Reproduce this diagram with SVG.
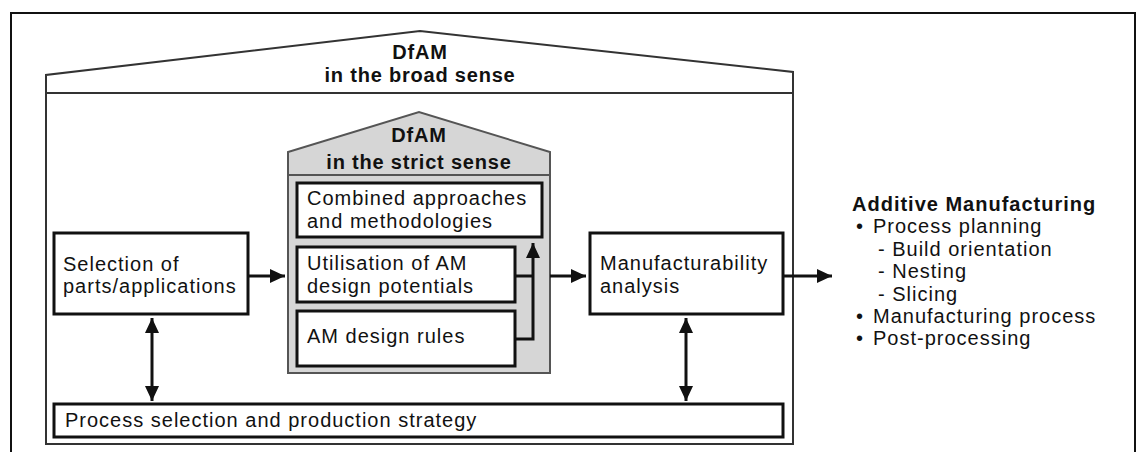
<svg xmlns="http://www.w3.org/2000/svg" width="1146" height="452" viewBox="0 0 1146 452">
<style>
text{font-family:"Liberation Sans",Arial,sans-serif;fill:#111;}
.t{font-size:20px;letter-spacing:1px;}
.b{font-size:20px;font-weight:bold;letter-spacing:0.8px;}
.bx{fill:#fff;stroke:#111;stroke-width:3;}
.c{fill:none;stroke:#111;stroke-width:3;}
</style>
<defs>
<marker id="ah" markerUnits="userSpaceOnUse" markerWidth="16" markerHeight="16" refX="15" refY="8" orient="auto-start-reverse">
<path d="M0,1 L15,8 L0,15 z" fill="#111"/>
</marker>
</defs>
<rect width="1146" height="452" fill="#fff"/>
<g id="frame"><rect x="11" y="13" width="1124" height="460" fill="none" stroke="#111" stroke-width="2"/></g>
<g id="broad">
<path d="M46,444 V75 L420,31 L793,72 V444 Z" fill="#fff" stroke="#333" stroke-width="2"/>
<path d="M46,93 H793" fill="none" stroke="#333" stroke-width="2"/>
<text class="b" text-anchor="middle"><tspan x="420" y="59">DfAM</tspan><tspan x="420" y="81.5">in the broad sense</tspan></text>
</g>
<g id="strict">
<path d="M288,373 V152 L419,112 L550,152 V373 Z" fill="#d6d6d6" stroke="#555" stroke-width="2"/>
<path d="M288,175 H550" stroke="#555" stroke-width="2"/>
<text class="b" text-anchor="middle"><tspan x="419" y="142">DfAM</tspan><tspan x="419" y="169">in the strict sense</tspan></text>
</g>
<g id="combined">
<rect class="bx" x="297" y="183" width="245" height="54"/>
<text class="t"><tspan x="307" y="205">Combined approaches</tspan><tspan x="307" y="227.5">and methodologies</tspan></text>
</g>
<g id="utilisation">
<rect class="bx" x="297" y="247" width="218" height="55"/>
<text class="t"><tspan x="307" y="270">Utilisation of AM</tspan><tspan x="307" y="292.5">design potentials</tspan></text>
</g>
<g id="rules">
<rect class="bx" x="297" y="311" width="218" height="55"/>
<text class="t" x="307" y="343">AM design rules</text>
</g>
<g id="selection">
<rect class="bx" x="54" y="233" width="194" height="81"/>
<text class="t"><tspan x="63" y="270.5">Selection of</tspan><tspan x="63" y="293">parts/applications</tspan></text>
</g>
<g id="manufacturability">
<rect class="bx" x="590" y="233" width="193" height="81"/>
<text class="t"><tspan x="600" y="270">Manufacturability</tspan><tspan x="600" y="292.5">analysis</tspan></text>
</g>
<g id="process">
<rect class="bx" x="54" y="404" width="729" height="33"/>
<text class="t" x="65" y="427">Process selection and production strategy</text>
</g>
<g id="am">
<text class="t"><tspan x="852" y="211" font-weight="bold">Additive Manufacturing</tspan><tspan x="856" y="233.4">•</tspan><tspan x="873" y="233.4">Process planning</tspan><tspan x="878" y="255.8">- Build orientation</tspan><tspan x="878" y="278.2">- Nesting</tspan><tspan x="878" y="300.6">- Slicing</tspan><tspan x="856" y="323">•</tspan><tspan x="873" y="323">Manufacturing process</tspan><tspan x="856" y="345.4">•</tspan><tspan x="873" y="345.4">Post-processing</tspan></text>
</g>
<g id="connectors">
<path class="c" d="M248,276 H285" marker-end="url(#ah)"/>
<path class="c" d="M515,339 H533 V243" marker-end="url(#ah)"/>
<path class="c" d="M515,276 H533"/>
<path class="c" d="M550,276 H586" marker-end="url(#ah)"/>
<path class="c" d="M783,276 H832" marker-end="url(#ah)"/>
<path class="c" d="M152,318 V401" marker-start="url(#ah)" marker-end="url(#ah)"/>
<path class="c" d="M686,318 V401" marker-start="url(#ah)" marker-end="url(#ah)"/>
</g>
</svg>
